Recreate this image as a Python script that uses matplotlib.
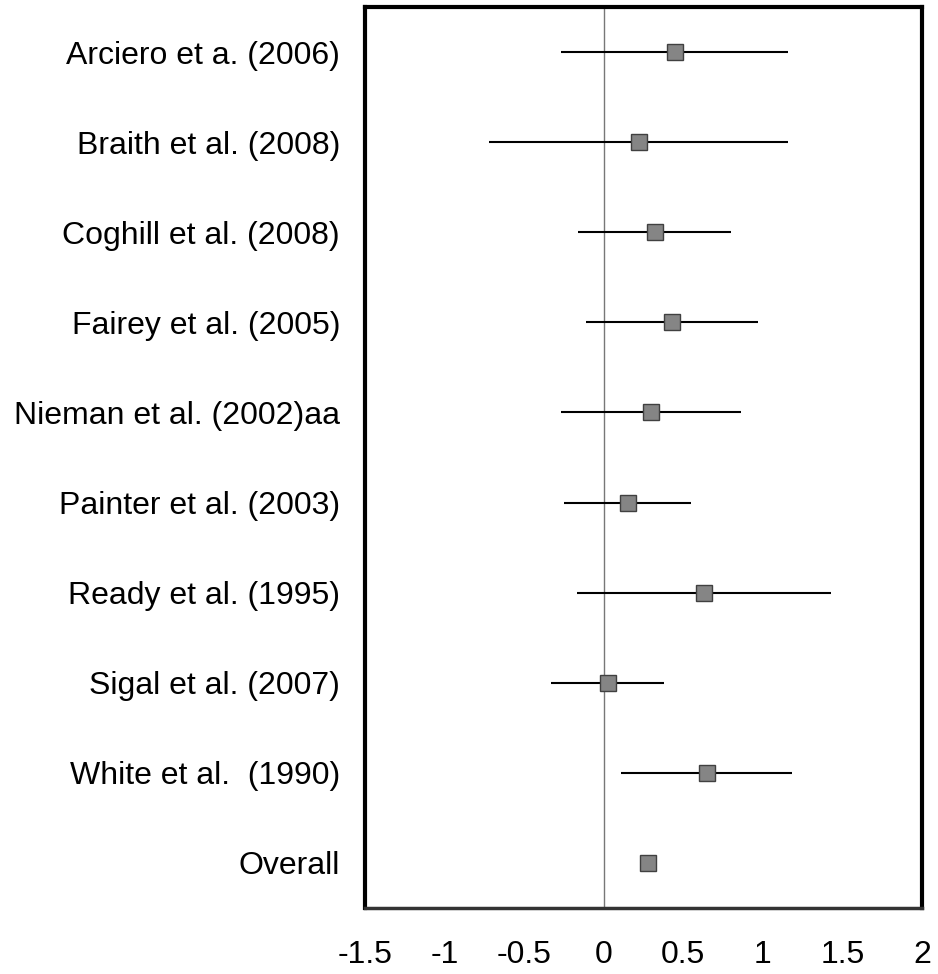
import matplotlib
matplotlib.use("Agg")
import matplotlib.pyplot as plt

studies = [
    "Arciero et a. (2006)",
    "Braith et al. (2008)",
    "Coghill et al. (2008)",
    "Fairey et al. (2005)",
    "Nieman et al. (2002)aa",
    "Painter et al. (2003)",
    "Ready et al. (1995)",
    "Sigal et al. (2007)",
    "White et al.  (1990)",
    "Overall",
]
effect = [0.45, 0.22, 0.32, 0.43, 0.30, 0.15, 0.63, 0.025, 0.65, 0.28]
lower = [-0.27, -0.72, -0.16, -0.11, -0.27, -0.25, -0.17, -0.33, 0.11, None]
upper = [1.16, 1.16, 0.80, 0.97, 0.86, 0.55, 1.43, 0.38, 1.18, None]
xticks = [-1.5, -1, -0.5, 0, 0.5, 1, 1.5, 2]
xticklabels = ["-1.5", "-1", "-0.5", "0", "0.5", "1", "1.5", "2"]


def main():
    plt.rcParams['font.family'] = ['Liberation Sans', 'DejaVu Sans']
    fig = plt.figure(figsize=(9.38, 9.74), dpi=100)
    ax = fig.add_axes([365 / 938, 1 - 908 / 974, (922 - 365) / 938, (908 - 7) / 974])

    ys = list(range(len(studies)))
    ax.axvline(0, color='#777777', lw=1, zorder=1)
    for y, lo, hi in zip(ys, lower, upper):
        if lo is not None:
            ax.hlines(y, lo, hi, color='black', lw=1.5, zorder=2)
    ax.plot(effect, ys, 's', ms=11, mfc='#858585', mec='#404040', mew=1, zorder=3)

    ax.set_xlim(-1.5, 2)
    ax.set_ylim(len(studies) - 0.5, -0.5)
    ax.set_yticks(ys)
    ax.set_yticklabels(studies)
    ax.set_xticks(xticks)
    ax.set_xticklabels(xticklabels)
    ax.tick_params(axis='both', length=0, labelsize=23)
    ax.tick_params(axis='y', pad=18)
    ax.tick_params(axis='x', pad=23)
    for side in ax.spines.values():
        side.set_linewidth(3)
    ax.spines['bottom'].set_linewidth(2.5)
    ax.spines['bottom'].set_color('#333333')

    fig.savefig("out.png", dpi=100)


if __name__ == "__main__":
    main()
